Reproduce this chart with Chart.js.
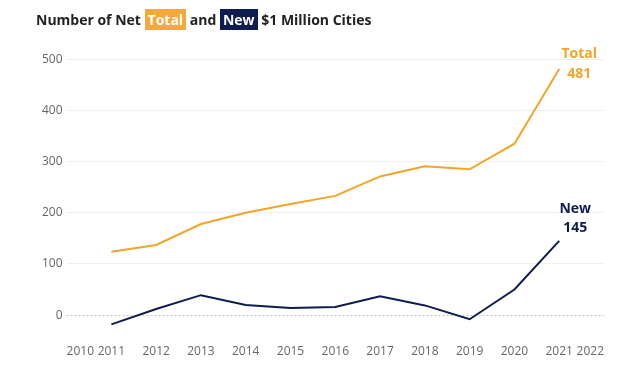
<!DOCTYPE html>
<html>
<head>
<meta charset="utf-8">
<script src="https://cdn.jsdelivr.net/npm/chart.js@4/dist/chart.umd.min.js"></script>
<style>
    html, body { margin: 0; padding: 0; background: #fff; }
    #wrap { position: relative; width: 642px; height: 370px; }
    #title {
        position: absolute; left: 36px; top: 10px;
        font: bold 14px "Open Sans", sans-serif; color: #222; white-space: nowrap;
    }
    #title span { color: #fff; padding: 1px 3px; }
    #title .tot { background: #f5a93a; }
    #title .new { background: #0f1c4f; }
    canvas { position: absolute; left: 0; top: 0; }
</style>
</head>
<body>
<div id="wrap">
    <canvas id="netChart" width="642" height="370"></canvas>
    <div id="title">Number of Net <span class="tot">Total</span> and <span class="new">New</span> $1 Million Cities</div>
</div>
<script>
const years = [2011, 2012, 2013, 2014, 2015, 2016, 2017, 2018, 2019, 2020, 2021];
const totalCities = [124, 137, 178, 200, 217, 233, 271, 291, 285, 335, 481];
const newCities = [-18, 12, 39, 20, 14, 16, 37, 19, -8, 50, 145];
const yTicks = [0, 100, 200, 300, 400, 500];

const orange = '#f2a528';
const navy = '#0f1c4f';

/**
 * dotted zero line plus the end labels next to the last points
 */
const extrasPlugin = {
    id: 'extras',
    beforeDatasetsDraw(chart) {
        const ctx = chart.ctx;
        const y0 = chart.scales.y.getPixelForValue(0);
        ctx.save();
        ctx.strokeStyle = '#c8c8c8';
        ctx.lineWidth = 1;
        ctx.setLineDash([2, 2]);
        ctx.beginPath();
        ctx.moveTo(chart.chartArea.left, Math.round(y0) + 0.5);
        ctx.lineTo(chart.chartArea.right, Math.round(y0) + 0.5);
        ctx.stroke();
        ctx.restore();
    },
    afterDatasetsDraw(chart) {
        const ctx = chart.ctx;
        ctx.save();
        ctx.font = 'bold 14px "Open Sans", sans-serif';
        ctx.textAlign = 'center';
        ctx.textBaseline = 'middle';
        chart.data.datasets.forEach((ds, i) => {
            const pts = chart.getDatasetMeta(i).data;
            const last = pts[pts.length - 1];
            const value = ds.data[ds.data.length - 1].y;
            const off = ds.labelOffset;
            ctx.fillStyle = ds.borderColor;
            ctx.fillText(ds.label, last.x + off.x, last.y + off.top);
            ctx.fillText(String(value), last.x + off.x, last.y + off.bottom);
        });
        ctx.restore();
    }
};

new Chart(document.querySelector('#netChart'), {
    type: 'line',
    data: {
        datasets: [{
            label: 'Total',
            data: years.map((yr, i) => ({x: yr, y: totalCities[i]})),
            borderColor: orange,
            borderWidth: 2,
            pointRadius: 0,
            tension: 0,
            labelOffset: {x: 20, top: -15, bottom: 5}
        }, {
            label: 'New',
            data: years.map((yr, i) => ({x: yr, y: newCities[i]})),
            borderColor: navy,
            borderWidth: 2,
            pointRadius: 0,
            tension: 0,
            labelOffset: {x: 16, top: -32, bottom: -13}
        }]
    },
    options: {
        responsive: false,
        animation: false,
        layout: {
            padding: {left: 38, right: 38, top: 49, bottom: 2}
        },
        plugins: {
            legend: {display: false},
            tooltip: {enabled: false}
        },
        scales: {
            x: {
                type: 'linear',
                min: 2010,
                max: 2022,
                afterBuildTicks: (scale) => {
                    scale.ticks = [];
                    for (let yr = 2010; yr <= 2022; yr++) scale.ticks.push({value: yr});
                },
                ticks: {
                    align: 'inner',
                    color: '#666',
                    padding: 9,
                    maxRotation: 0,
                    autoSkip: false,
                    font: {family: '"Open Sans", sans-serif', size: 12},
                    callback: (v) => String(v)
                },
                grid: {display: false, drawTicks: false},
                border: {display: false}
            },
            y: {
                min: -40,
                max: 520,
                afterBuildTicks: (scale) => {
                    scale.ticks = yTicks.map(v => ({value: v}));
                },
                ticks: {
                    color: '#666',
                    padding: 4,
                    font: {family: '"Open Sans", sans-serif', size: 12}
                },
                grid: {
                    drawTicks: false,
                    color: (c) => c.tick && c.tick.value === 0 ? 'rgba(0,0,0,0)' : '#f0f0f0'
                },
                border: {display: false}
            }
        }
    },
    plugins: [extrasPlugin]
});
</script>
</body>
</html>
